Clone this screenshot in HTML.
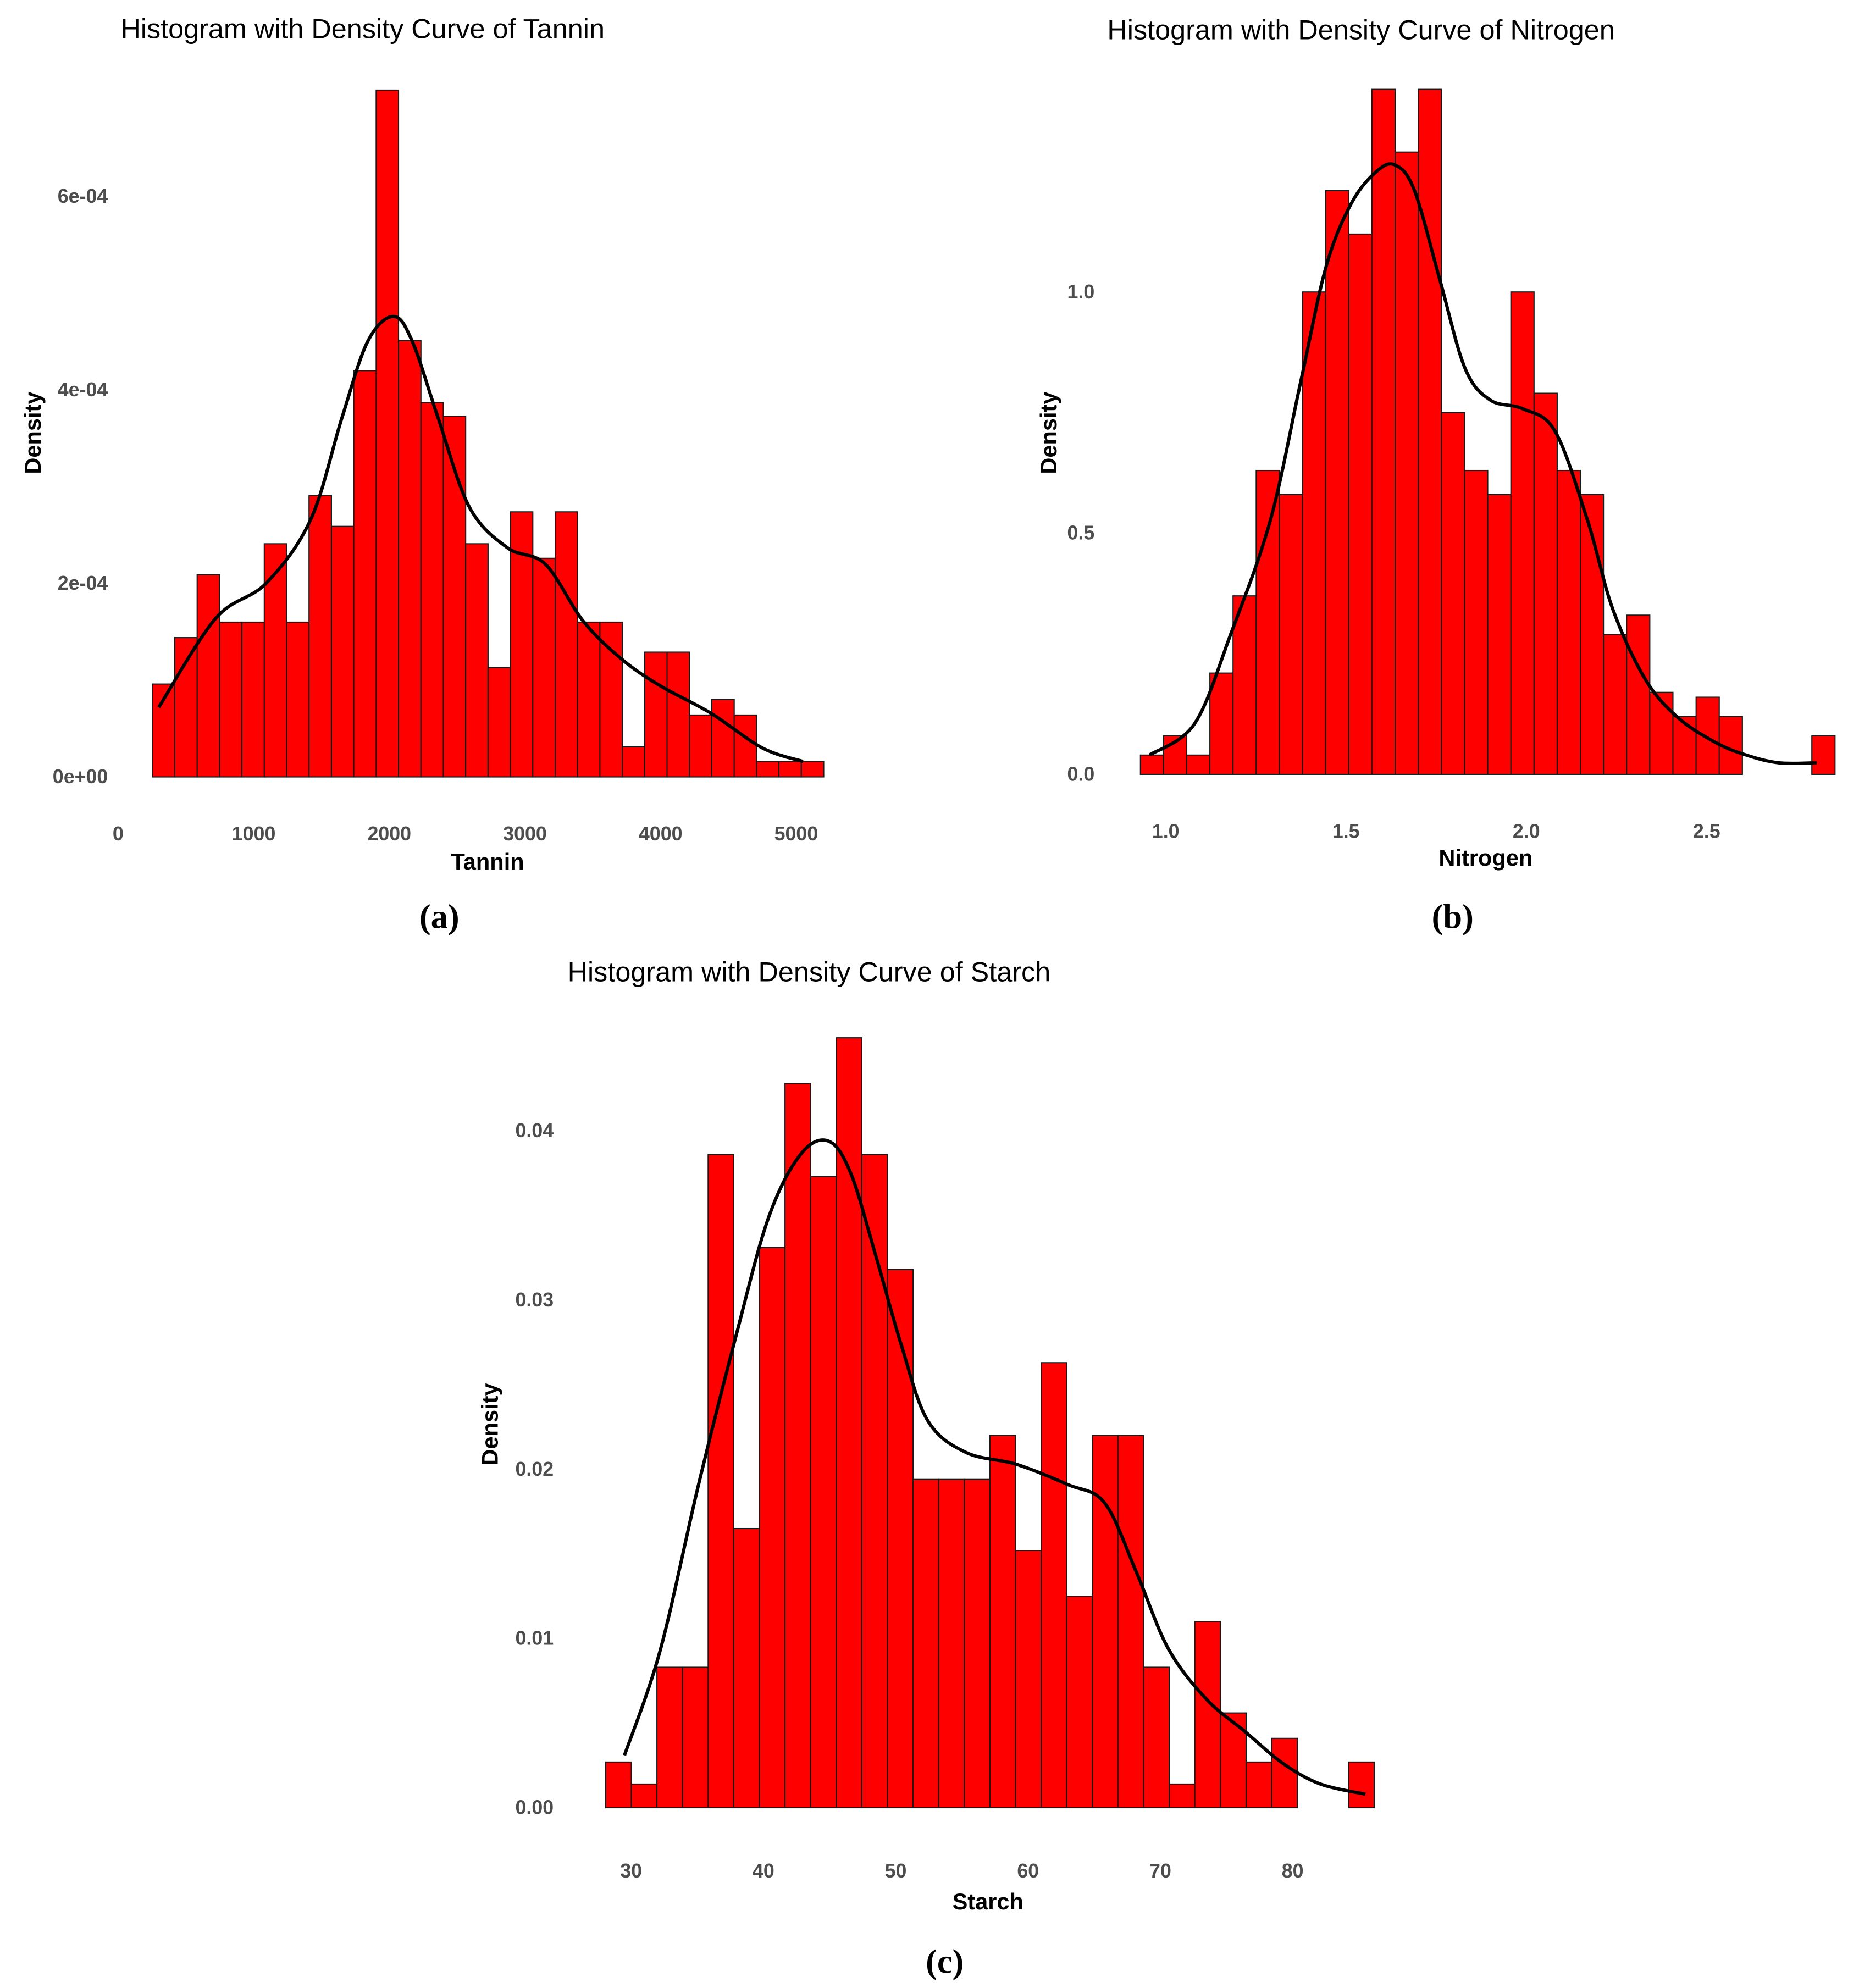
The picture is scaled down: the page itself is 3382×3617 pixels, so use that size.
<!DOCTYPE html>
<html><head><meta charset="utf-8"><style>
html,body{margin:0;padding:0;background:#fff;}
svg{display:block;}
text{font-family:"Liberation Sans",sans-serif;}
.tick{font-size:15.5px;font-weight:bold;fill:#4d4d4d;}
.ttl{font-size:21.8px;fill:#000;}
.axt{font-size:18px;font-weight:bold;fill:#000;}
.cap{font-family:"Liberation Serif",serif;font-size:27px;font-weight:bold;fill:#000;}
</style></head><body>
<svg id="root" width="3382" height="3617" viewBox="0 0 1464 1566" preserveAspectRatio="none" xmlns="http://www.w3.org/2000/svg">
<rect width="1464" height="1566" fill="#fff"/>
</svg>
<script>
// ---- Chart A: Tannin ----
const tanninStart = 253, tanninBin = 165;
const tanninDensity = [0.96,1.44,2.09,1.6,1.6,2.41,1.6,2.91,2.59,4.2,7.1,4.51,3.87,3.73,2.41,1.13,2.74,2.26,2.74,1.6,1.6,0.31,1.29,1.29,0.64,0.8,0.64,0.16,0.16,0.16]; // x1e-4
const tanninCurveX = [300,720,1090,1420,1650,1840,2030,2170,2360,2590,2870,3150,3430,3720,4000,4370,4750,5050];
const tanninCurveY = [0.72,1.64,2.0,2.66,3.71,4.5,4.76,4.5,3.71,2.79,2.37,2.2,1.61,1.21,0.94,0.66,0.3,0.16];
const tanninXTicks = [0,1000,2000,3000,4000,5000];
const tanninXLabels = ["0","1000","2000","3000","4000","5000"];
const tanninYTicks = [0,2,4,6];
const tanninYLabels = ["0e+00","2e-04","4e-04","6e-04"];

// ---- Chart B: Nitrogen ----
const nitroStart = 0.93, nitroBin = 0.0642;
const nitroDensity = [0.04,0.08,0.04,0.21,0.37,0.63,0.58,1.0,1.21,1.12,1.42,1.29,1.42,0.75,0.63,0.58,1.0,0.79,0.63,0.58,0.29,0.33,0.17,0.12,0.16,0.12,0,0,0,0.08];
const nitroCurveX = [0.955,1.08,1.18,1.29,1.375,1.445,1.515,1.585,1.637,1.69,1.76,1.83,1.9,1.99,2.08,2.17,2.24,2.33,2.42,2.525,2.61,2.7,2.805];
const nitroCurveY = [0.04,0.105,0.29,0.526,0.816,1.053,1.184,1.25,1.263,1.21,1.026,0.842,0.776,0.758,0.711,0.526,0.342,0.197,0.118,0.066,0.04,0.024,0.024];
const nitroXTicks = [1.0,1.5,2.0,2.5];
const nitroXLabels = ["1.0","1.5","2.0","2.5"];
const nitroYTicks = [0,0.5,1.0];
const nitroYLabels = ["0.0","0.5","1.0"];

// ---- Chart C: Starch ----
const starchStart = 28.08, starchBin = 1.936;
const starchDensity = [0.0027,0.0014,0.0083,0.0083,0.0386,0.0165,0.0331,0.0428,0.0373,0.0455,0.0386,0.0318,0.0194,0.0194,0.0194,0.022,0.0152,0.0263,0.0125,0.022,0.022,0.0083,0.0014,0.011,0.0056,0.0027,0.0041,0,0,0.0027];
const starchCurveX = [29.5,32.2,35.1,38.0,40.4,42.8,44.9,46.6,48.5,50.4,52.4,55.3,59.1,63.0,65.8,68.2,70.6,73.5,76.4,79.3,82.1,85.5];
const starchCurveY = [0.0031,0.0093,0.0191,0.0281,0.0349,0.0386,0.0394,0.0375,0.0326,0.0274,0.0229,0.021,0.0203,0.0191,0.018,0.0139,0.0094,0.0064,0.0045,0.0026,0.0014,0.0008];
const starchXTicks = [30,40,50,60,70,80];
const starchXLabels = ["30","40","50","60","70","80"];
const starchYTicks = [0,0.01,0.02,0.03,0.04];
const starchYLabels = ["0.00","0.01","0.02","0.03","0.04"];

const NS = "http://www.w3.org/2000/svg";
const root = document.getElementById('root');
function mk(tag, attrs, parent, txt){
  const e = document.createElementNS(NS, tag);
  for (const k in attrs) e.setAttribute(k, attrs[k]);
  if (txt !== undefined) e.textContent = txt;
  parent.appendChild(e);
  return e;
}
function drawChart(cfg){
  const g = mk('g', {}, root);
  
  
  const sx = v => cfg.x0 + (v - cfg.xv0) * cfg.xs;
  const sy = v => cfg.y0 - v * cfg.ys;
  const t = mk('text', {x: cfg.titleX, y: cfg.titleY, class: 'ttl'}, g, cfg.title);
  
  
  const bars = mk('g', {}, g);
  
  
  cfg.dens.forEach((d, i) => {
    if (d <= 0) return;
    const xa = sx(cfg.start + i * cfg.bin), xb = sx(cfg.start + (i + 1) * cfg.bin);
    const r = mk('rect', {x: xa, y: sy(d), width: xb - xa, height: sy(0) - sy(d), fill: '#ff0000', stroke: '#1a1a1a', 'stroke-width': 0.9}, bars);
    
    
  });
  const pts = cfg.cx.map((x, i) => [sx(x), sy(cfg.cy[i])]);
  let d = 'M' + pts[0][0] + ',' + pts[0][1];
  for (let i = 0; i < pts.length - 1; i++) {
    const p0 = pts[Math.max(0, i - 1)], p1 = pts[i], p2 = pts[i + 1], p3 = pts[Math.min(pts.length - 1, i + 2)];
    d += ' C' + (p1[0] + (p2[0] - p0[0]) / 6) + ',' + (p1[1] + (p2[1] - p0[1]) / 6) + ' ' + (p2[0] - (p3[0] - p1[0]) / 6) + ',' + (p2[1] - (p3[1] - p1[1]) / 6) + ' ' + p2[0] + ',' + p2[1];
  }
  const c = mk('path', {d: d, fill: 'none', stroke: '#000', 'stroke-width': 2.6}, g);
  
  
  cfg.xt.forEach((v, i) => {
    const e = mk('text', {x: sx(v), y: cfg.xLabY, class: 'tick', 'text-anchor': 'middle'}, g, cfg.xl[i]);
    
    
  });
  cfg.yt.forEach((v, i) => {
    const e = mk('text', {x: cfg.yLabX, y: sy(v) + 5, class: 'tick', 'text-anchor': 'end'}, g, cfg.yl[i]);
    
    
  });
  const xt = mk('text', {x: cfg.xTitleX, y: cfg.xTitleY, class: 'axt', 'text-anchor': 'middle'}, g, cfg.xTitle);
  
  
  const yt = mk('text', {x: 0, y: 0, class: 'axt', 'text-anchor': 'middle', transform: 'translate(' + cfg.yTitleX + ',' + cfg.yTitleY + ') rotate(-90)'}, g, 'Density');
  
  
  const cp = mk('text', {x: cfg.capX, y: cfg.capY, class: 'cap', 'text-anchor': 'middle'}, g, cfg.cap);
  
  
}
drawChart({id:'tannin', title:'Histogram with Density Curve of Tannin', titleX:95, titleY:30,
  x0:93, xv0:0, xs:0.1068, y0:612, ys:76.2,
  start:tanninStart, bin:tanninBin, dens:tanninDensity, cx:tanninCurveX, cy:tanninCurveY,
  xt:tanninXTicks, xl:tanninXLabels, yt:tanninYTicks, yl:tanninYLabels,
  xLabY:662, yLabX:85, xTitle:'Tannin', xTitleX:384, xTitleY:685, yTitleX:32, yTitleY:341, cap:'(a)', capX:346, capY:731});
drawChart({id:'nitrogen', title:'Histogram with Density Curve of Nitrogen', titleX:872, titleY:31,
  x0:918, xv0:1.0, xs:284, y0:610, ys:380,
  start:nitroStart, bin:nitroBin, dens:nitroDensity, cx:nitroCurveX, cy:nitroCurveY,
  xt:nitroXTicks, xl:nitroXLabels, yt:nitroYTicks, yl:nitroYLabels,
  xLabY:660, yLabX:862, xTitle:'Nitrogen', xTitleX:1170, xTitleY:682, yTitleX:832, yTitleY:341, cap:'(b)', capX:1144, capY:731});
drawChart({id:'starch', title:'Histogram with Density Curve of Starch', titleX:447, titleY:773,
  x0:497, xv0:30, xs:10.42, y0:1424, ys:13330,
  start:starchStart, bin:starchBin, dens:starchDensity, cx:starchCurveX, cy:starchCurveY,
  xt:starchXTicks, xl:starchXLabels, yt:starchYTicks, yl:starchYLabels,
  xLabY:1479, yLabX:436, xTitle:'Starch', xTitleX:778, xTitleY:1504, yTitleX:392, yTitleY:1122, cap:'(c)', capX:744, capY:1554});
</script>
</body></html>
